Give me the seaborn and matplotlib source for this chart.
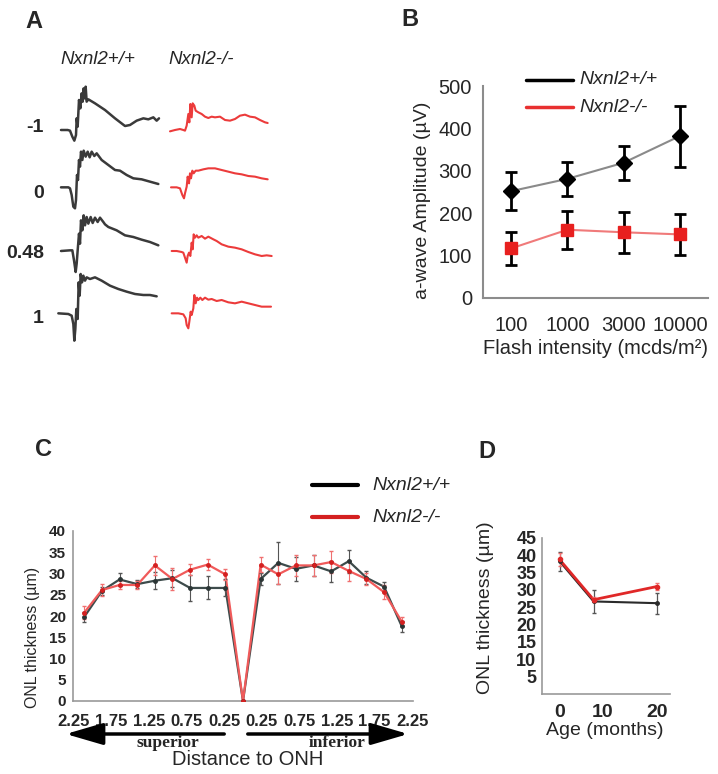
import numpy as np
import pandas as pd
import matplotlib
matplotlib.use('Agg')
import matplotlib.pyplot as plt
from matplotlib.lines import Line2D
from matplotlib.patches import FancyArrowPatch
import seaborn as sns

sns.set_style('white')
plt.rcParams['font.family'] = ['Liberation Sans', 'DejaVu Sans']

W, H = 718, 774

# ---- panel A: ERG traces (time steps / amplitude in trace units)
intensities = ['-1', '0', '0.48', '1']
wt_t = [[18, 38, 45, 52, 58, 63, 65, 68, 72, 76, 80, 83, 86, 89, 92, 95, 100, 120, 150, 180, 210, 225, 245, 265, 280, 295, 305, 312],
        [18, 40, 45, 50, 55, 60, 63, 66, 69, 72, 75, 78, 82, 86, 92, 98, 104, 110, 118, 125, 140, 160, 180, 195, 215, 235, 260, 285, 310],
        [18, 45, 52, 57, 62, 65, 68, 72, 75, 78, 82, 86, 90, 95, 100, 107, 113, 120, 128, 135, 145, 150, 160, 185, 210, 235, 260, 285, 310],
        [10, 40, 50, 55, 58, 61, 64, 68, 71, 74, 77, 81, 85, 90, 95, 105, 120, 140, 165, 190, 215, 240, 265, 285, 305]]
wt_v = [[0, 0, -2, -20, -32, -15, 35, 10, 90, 65, 110, 85, 125, 95, 130, 85, 92, 80, 60, 35, 12, 15, 28, 35, 32, 38, 28, 35],
        [0, 0, -3, -23, -58, -63, -38, 37, 22, 82, 62, 107, 82, 110, 92, 107, 90, 107, 94, 102, 82, 67, 52, 50, 37, 27, 24, 17, 10],
        [0, 2, 2, -28, -63, -38, 2, 52, 22, 92, 62, 107, 77, 102, 82, 102, 84, 100, 87, 100, 87, 80, 72, 62, 47, 42, 34, 27, 17],
        [0, -2, -7, -32, -82, -47, 13, -17, 93, 53, 118, 93, 113, 98, 108, 103, 108, 98, 83, 73, 65, 58, 55, 55, 51]]
ko_t = [[15, 30, 45, 55, 60, 65, 70, 73, 76, 80, 83, 88, 92, 100, 110, 120, 130, 140, 150, 165, 180, 195, 210, 225, 240, 255, 270, 285, 300, 308],
        [18, 35, 45, 52, 57, 60, 65, 68, 72, 75, 78, 82, 86, 92, 100, 115, 130, 150, 170, 190, 210, 230, 250, 270, 290, 308],
        [20, 35, 50, 55, 60, 65, 68, 72, 76, 80, 83, 86, 90, 95, 100, 110, 120, 130, 145, 155, 170, 190, 210, 230, 250, 270, 290, 305, 320],
        [20, 40, 55, 62, 65, 70, 73, 77, 80, 85, 88, 92, 96, 100, 106, 112, 120, 130, 140, 155, 170, 190, 210, 230, 250, 270, 290, 305, 318]]
ko_v = [[-4, 0, 3, 0, -2, 13, 48, 23, 78, 38, 80, 73, 58, 53, 48, 40, 36, 40, 38, 40, 30, 28, 33, 43, 46, 40, 38, 30, 23, 21],
        [0, 0, -3, -23, -33, -18, 2, 32, 12, 42, 27, 50, 42, 50, 50, 54, 57, 57, 52, 47, 42, 39, 34, 32, 27, 24],
        [0, 0, -3, -5, -20, -35, -15, -5, -15, 25, 5, 50, 40, 47, 40, 45, 37, 43, 35, 30, 20, 13, 10, 5, -3, -10, -15, -13, -15],
        [0, 0, -3, -15, -35, -45, -25, 5, -5, 15, 55, 30, 47, 40, 47, 40, 47, 41, 43, 37, 40, 33, 30, 35, 30, 25, 20, 20, 20]]

# ---- panel B
flash = ['100', '1000', '3000', '10000']
b_wt = [252, 281, 319, 382]
b_wt_err = [44, 40, 40, 72]
b_ko = [117, 161, 155, 150]
b_ko_err = [39, 45, 48, 48]

# ---- panel C
dist = [-2.25, -2.0, -1.75, -1.5, -1.25, -1.0, -0.75, -0.5, -0.25, 0,
        0.25, 0.5, 0.75, 1.0, 1.25, 1.5, 1.75, 2.0, 2.25]
c_wt = [19.8, 25.9, 28.6, 27.5, 28.3, 28.9, 26.6, 26.6, 26.6, 0,
        28.7, 32.5, 31.1, 31.9, 30.5, 32.9, 29.0, 26.9, 17.6]
c_wt_err = [1.2, 1.0, 1.5, 1.0, 2.0, 2.0, 3.0, 2.7, 2.0, 0,
            1.5, 5.0, 2.8, 2.5, 2.5, 2.7, 1.5, 1.2, 1.3]
c_ko = [20.8, 26.1, 27.3, 27.3, 31.9, 28.7, 30.9, 32.1, 29.8, 0,
        32.1, 29.8, 31.9, 31.9, 32.7, 30.6, 28.7, 25.6, 18.7]
c_ko_err = [1.5, 1.5, 1.0, 1.0, 2.3, 2.5, 1.3, 1.3, 1.3, 0,
            1.7, 2.3, 2.4, 2.5, 2.5, 2.3, 1.5, 1.7, 1.0]
c_ticklabels = ['2.25', '1.75', '1.25', '0.75', '0.25', '0.25', '0.75', '1.25', '1.75', '2.25']

# ---- panel D
age = [0, 7, 20]
d_wt = [38.3, 26.7, 26.2]
d_wt_err = [2.8, 3.2, 3.0]
d_ko = [38.8, 27.2, 31.0]
d_ko_err = [2.0, 0.8, 1.0]
age_ticklabels = ['0', '10', '20']

labels = ['Nxnl2+/+', 'Nxnl2-/-']


def box(l, t, r, b):
    return [l / W, 1 - b / H, (r - l) / W, (b - t) / H]


def fr(x, y):
    return x / W, 1 - y / H


fig = plt.figure(figsize=(W / 100, H / 100), dpi=100)

def ftext(x, y, s, **kw):
    fig.text(*fr(x, y), s, **kw)

def fline(x1, x2, y, **kw):
    fig.add_artist(Line2D([x1 / W, x2 / W], [1 - y / H, 1 - y / H], transform=fig.transFigure, **kw))

# panel letters
for s, x, y in [('A', 34, 21), ('B', 410, 20), ('C', 43, 450), ('D', 487, 452)]:
    ftext(x, y, s, fontsize=17, fontweight='bold', ha='center', va='center')

# ================= A
axA = fig.add_axes(box(55, 80, 275, 345))
axA.set_xlim(0, 660)
axA.set_ylim(795, 0)
axA.axis('off')
row_base = [150, 322, 513, 700]
for i in range(4):
    sns.lineplot(x=np.array(wt_t[i]), y=row_base[i] - np.array(wt_v[i]), sort=False, estimator=None,
                 color='#3a3a3a', lw=1.8, ax=axA)
    sns.lineplot(x=330 + np.array(ko_t[i]), y=row_base[i] - np.array(ko_v[i]), sort=False, estimator=None,
                 color='#ec3b3b', lw=1.5, ax=axA)
for s, y in zip(intensities, [128, 193, 253, 318]):
    ftext(44, y, s, fontsize=14, fontweight='bold', ha='right', va='center')
ftext(60, 59, labels[0], fontsize=13.5, style='italic', va='center')
ftext(168, 59, labels[1], fontsize=13.5, style='italic', va='center')

# ================= B
axB = fig.add_axes(box(483, 86, 708, 298))
xb = np.arange(len(flash))
sns.lineplot(x=xb, y=b_wt, color='#8a8a8a', lw=1.5, ax=axB)
sns.lineplot(x=xb, y=b_ko, color='#f07a7a', lw=1.5, ax=axB)
axB.errorbar(xb, b_wt, yerr=b_wt_err, fmt='D', color='black', ms=8, capsize=4, elinewidth=2, capthick=2, zorder=3)
axB.errorbar(xb, b_ko, yerr=b_ko_err, fmt='none', ecolor='black', capsize=4, elinewidth=2, capthick=2, zorder=3)
axB.plot(xb, b_ko, 's', color='#e8201f', ms=8, zorder=4)
axB.set_xlim(-0.5, 3.5)
axB.set_ylim(0, 500)
axB.set_yticks(range(0, 501, 100))
axB.set_xticks([-0.5, 0.5, 1.5, 2.5, 3.5])
axB.set_xticklabels([])
axB.set_xticks(xb, minor=True)
axB.set_xticklabels(flash, minor=True)
axB.tick_params(axis='x', which='major', length=5, width=1.3, color='#8c8c8c', direction='out')
axB.tick_params(axis='x', which='minor', length=0, pad=13, labelsize=14.5)
axB.tick_params(axis='y', length=5, width=1.3, color='#8c8c8c', direction='out', pad=3, labelsize=14.5)
for sp in ['top', 'right']:
    axB.spines[sp].set_visible(False)
for sp in ['left', 'bottom']:
    axB.spines[sp].set_color('#8c8c8c')
    axB.spines[sp].set_linewidth(1.5)
axB.set_xlabel('Flash intensity (mcds/m²)', fontsize=14.5, va='center')
axB.xaxis.set_label_coords(0.498, -0.236)
axB.set_ylabel('a-wave Amplitude (µV)', fontsize=14, va='center')
axB.yaxis.set_label_coords(-0.267, 0.462)
fline(526, 573, 80, color='black', lw=2.5)
fline(526, 573, 107, color='#e83030', lw=2.5)
ftext(579, 80, labels[0], fontsize=14, style='italic', va='center')
ftext(579, 107, labels[1], fontsize=14, style='italic', va='center')

# ================= C
axC = fig.add_axes(box(73, 531, 413, 701))
sns.lineplot(x=dist, y=c_wt, color='#3d4b4b', lw=1.6, ax=axC)
axC.errorbar(dist, c_wt, yerr=c_wt_err, fmt='o', ms=2.5, color='#2b3535', ecolor='#555555',
             capsize=1.5, elinewidth=0.8, zorder=3)
sns.lineplot(x=dist, y=c_ko, color='#f05a5a', lw=1.6, ax=axC)
axC.errorbar(dist, c_ko, yerr=c_ko_err, fmt='o', ms=2.5, color='#d42020', ecolor='#f07070',
             capsize=1.5, elinewidth=0.8, zorder=3)
axC.set_xlim(-2.41, 2.41)
axC.set_ylim(0, 40)
axC.set_yticks(range(0, 41, 5))
axC.set_xticks(np.linspace(-2.4, 2.4, 10))
axC.set_xticklabels(c_ticklabels)
axC.set_xticks(np.arange(-2.375, 2.4, 0.125), minor=True)
axC.tick_params(axis='x', which='major', length=0, pad=9, labelsize=12)
axC.tick_params(axis='x', which='minor', length=3, width=1, color='#999999', direction='out')
axC.tick_params(axis='y', length=3, width=1, color='#999999', direction='out', pad=2, labelsize=11)
for t in axC.get_xticklabels() + axC.get_yticklabels():
    t.set_fontweight('bold')
for sp in ['top', 'right']:
    axC.spines[sp].set_visible(False)
for sp in ['left', 'bottom']:
    axC.spines[sp].set_color('#999999')
    axC.spines[sp].set_linewidth(1.2)
axC.set_ylabel('ONL thickness (µm)', fontsize=11.5, va='center')
axC.yaxis.set_label_coords(-0.118, 0.371)
axC.set_xlabel('Distance to ONH', fontsize=14.5, va='center')
axC.xaxis.set_label_coords(0.515, -0.347)

for x1, x2 in [(227, 63), (245, 411)]:
    fig.add_artist(FancyArrowPatch(fr(x1, 734), fr(x2, 734), transform=fig.transFigure,
                                   arrowstyle='-|>,head_length=1.2,head_width=0.35', mutation_scale=19,
                                   lw=2.5, color='black'))
ftext(168, 743, 'superior', fontsize=12.5, fontweight='bold', family='Liberation Serif', ha='center', va='center')
ftext(337, 743, 'inferior', fontsize=12.5, fontweight='bold', family='Liberation Serif', ha='center', va='center')
fline(312, 358, 485, color='black', lw=3)
fline(312, 358, 517, color='#d42020', lw=3)
ftext(372, 485, labels[0], fontsize=14, style='italic', va='center')
ftext(372, 517, labels[1], fontsize=14, style='italic', va='center')

# ================= D
axD = fig.add_axes(box(542, 538, 670, 694))
sns.lineplot(x=age, y=d_wt, color='#2a2a2a', lw=1.5, ax=axD)
axD.errorbar(age, d_wt, yerr=d_wt_err, fmt='o', ms=2.5, color='#2a2a2a', ecolor='#555555',
             capsize=1.5, elinewidth=0.9, zorder=3)
sns.lineplot(x=age, y=d_ko, color='#e02828', lw=2, ax=axD)
axD.errorbar(age, d_ko, yerr=d_ko_err, fmt='o', ms=3, color='#e02828', ecolor='#f07070',
             capsize=1.5, elinewidth=0.9, zorder=3)
axD.set_xlim(-3.6, 22.7)
axD.set_ylim(0, 45)
axD.set_yticks(range(5, 46, 5))
axD.set_xticks([0, 8.8, 20])
axD.set_xticklabels(age_ticklabels)
axD.set_xticks([9.5], minor=True)
axD.tick_params(axis='x', which='major', length=0, pad=7, labelsize=14)
axD.tick_params(axis='x', which='minor', length=3, color='#999999')
axD.tick_params(axis='y', length=0, pad=4, labelsize=13)
for t in axD.get_xticklabels() + axD.get_yticklabels():
    t.set_fontweight('bold')
for sp in ['top', 'right']:
    axD.spines[sp].set_visible(False)
for sp in ['left', 'bottom']:
    axD.spines[sp].set_color('#999999')
    axD.spines[sp].set_linewidth(1.2)
axD.set_ylabel('ONL thickness (µm)', fontsize=14, va='center')
axD.yaxis.set_label_coords(-0.445, 0.551)
axD.set_xlabel('Age (months)', fontsize=14, va='center')
axD.xaxis.set_label_coords(0.49, -0.231)

fig.savefig('out.png', dpi=100)
